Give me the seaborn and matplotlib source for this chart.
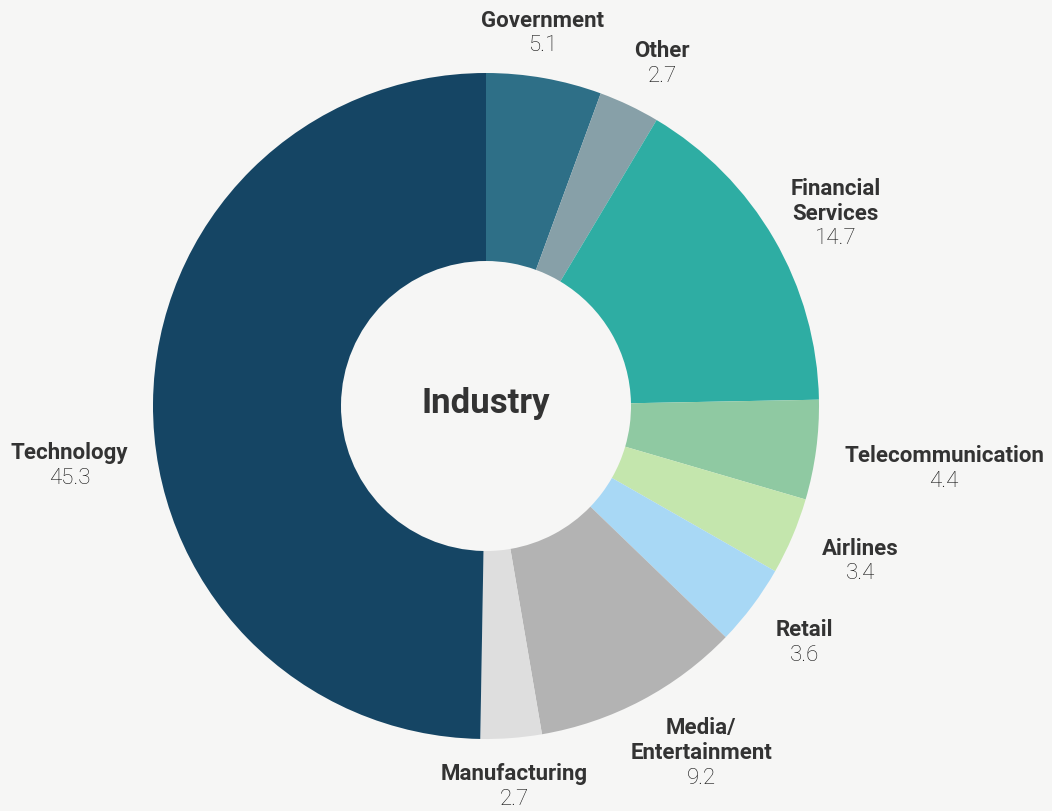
import numpy as np
import matplotlib
matplotlib.use("Agg")
import matplotlib.pyplot as plt
import seaborn as sns

# Share of respondents by industry
industries = ["Government", "Other", "Financial\nServices", "Telecommunication",
              "Airlines", "Retail", "Media/\nEntertainment", "Manufacturing", "Technology"]
shares = [5.1, 2.7, 14.7, 4.4, 3.4, 3.6, 9.2, 2.7, 45.3]
colors = ["#2e6f87", "#87a0a8", "#2eada3", "#8fc9a2", "#c4e6ad",
          "#a8d8f5", "#b3b3b3", "#dedede", "#154564"]
center_title = "Industry"

sns.set_theme(style="white")
plt.rcParams["font.family"] = ["Roboto", "DejaVu Sans"]

BG = "#f6f6f5"
W, H = 1052, 811
fig = plt.figure(figsize=(W / 100, H / 100), dpi=100, facecolor=BG)
ax = fig.add_axes([0, 0, 1, 1])
ax.set_facecolor(BG)

cx, cy = 486, H - 406
R = 333
inner = 145

wedges, _ = ax.pie(shares, colors=colors, startangle=90, counterclock=False,
                   radius=R, center=(cx, cy),
                   wedgeprops=dict(width=R - inner, linewidth=0))
ax.set_xlim(0, W)
ax.set_ylim(0, H)
ax.set_aspect("equal")
ax.axis("off")

ax.text(cx, cy + 2, center_title, ha="center", va="center",
        fontsize=25, fontweight="bold", color="#333333")

# outside labels: anchored just beyond the ring along each wedge's mid-angle
line_h = 25
char_w = 11.8
nudge = {"Technology": (-8, -63), "Government": (-15, 4), "Other": (13, 4),
         "Financial\nServices": (1, -2), "Telecommunication": (12, -13),
         "Airlines": (9, -9), "Retail": (10, -12),
         "Media/\nEntertainment": (16, -5), "Manufacturing": (-4, -7)}
total = sum(shares)
acc = 0.0
for name, val in zip(industries, shares):
    mid = np.deg2rad(90 - 360 * (acc + val / 2) / total)
    acc += val
    ux, uy = np.cos(mid), np.sin(mid)
    lines = name.split("\n")
    bw = max(len(s) for s in lines + [f"{val}"]) * char_w
    bh = (len(lines) + 1) * line_h
    lx = cx + 1.05 * R * ux + ux * bw / 2
    ly = cy + 1.05 * R * uy + uy * bh / 2
    dx, dy = nudge.get(name, (0, 0))
    lx += dx
    ly += dy
    top = ly + bh / 2
    for i, s in enumerate(lines):
        ax.text(lx, top - (i + 0.5) * line_h, s, ha="center", va="center",
                fontsize=16, fontweight="bold", color="#333333")
    ax.text(lx, top - (len(lines) + 0.5) * line_h, f"{val}", ha="center",
            va="center", fontsize=16, fontweight="light", color="#111111")

fig.savefig("out.png", dpi=100, facecolor=BG)
